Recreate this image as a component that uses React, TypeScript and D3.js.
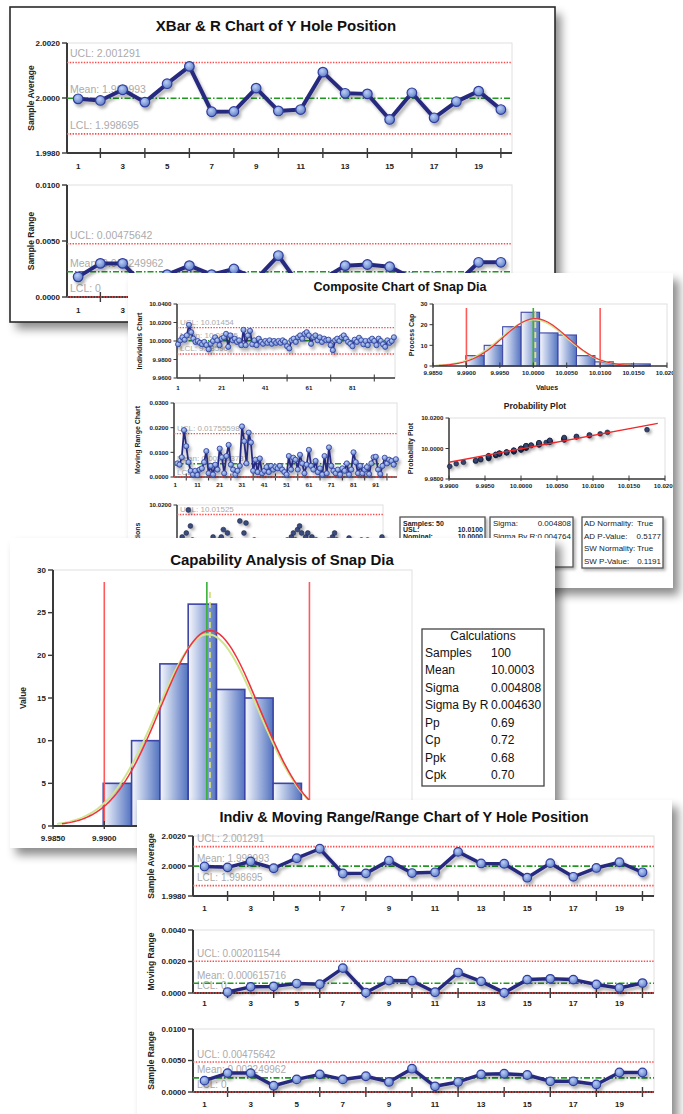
import React from "react";
import * as d3 from "d3";

// ---------------- DATA: Y Hole Position ----------------
const sampleNumbers = [1, 2, 3, 4, 5, 6, 7, 8, 9, 10, 11, 12, 13, 14, 15, 16, 17, 18, 19, 20];
const xbarValues = [1.99997, 1.99991, 2.0003, 1.99985, 2.00052, 2.00115, 1.9995, 1.99951, 2.00036, 1.99953, 1.99958, 2.00094, 2.00017, 2.00015, 1.99922, 2.00019, 1.99928, 1.99987, 2.00025, 1.99958];
const rangeValues = [0.0018, 0.003, 0.003, 0.001, 0.002, 0.0028, 0.002, 0.0025, 0.0016, 0.0037, 0.0009, 0.0016, 0.0028, 0.0029, 0.0027, 0.0017, 0.0017, 0.0012, 0.0031, 0.0031];
const movingRangeSamples = [2, 3, 4, 5, 6, 7, 8, 9, 10, 11, 12, 13, 14, 15, 16, 17, 18, 19, 20];
const movingRangeValues = [0.00006, 0.00039, 0.00042, 0.0006, 0.00056, 0.00158, 0.00003, 0.00079, 0.00078, 0.00005, 0.0013, 0.00074, 0.00002, 0.00085, 0.0009, 0.00085, 0.00054, 0.00032, 0.00063];
const xbarLimits = [2.001291, 1.999993, 1.998695];
const xbarLimitText = ["UCL: 2.001291", "Mean: 1.999993", "LCL: 1.998695"];
const rangeLimits = [0.00475642, 0.002249962, 0];
const rangeLimitText = ["UCL: 0.00475642", "Mean: 0.002249962", "LCL: 0"];
const mrLimits = [0.002011544, 0.000615716, 0];
const mrLimitText = ["UCL: 0.002011544", "Mean: 0.000615716", "LCL: 0"];
const limitKinds3 = ["ucl", "mean", "lcl"];
const holeXLabels = [1, 3, 5, 7, 9, 11, 13, 15, 17, 19];
const holeXMarks = [2, 4, 6, 8, 10, 12, 14, 16, 18, 20];

// ---------------- DATA: Snap Dia ----------------
const snapIndividuals = [
  9.9965, 10.0007, 10.004, 10.0014, 10.006, 10.0175, 10.0095, 10.0025, 9.999, 10.0,
  9.998, 9.9965, 9.999, 9.9955, 9.991, 9.997, 10.0, 10.004, 10.0007, 9.9955,
  10.0025, 10.004, 10.0077, 9.9937, 10.006, 10.0007, 10.0025, 9.999, 10.0007, 9.9955,
  10.012, 9.9955, 10.006, 10.011, 9.9965, 10.0007, 9.9955, 10.0025, 9.999, 9.997,
  10.0, 9.998, 10.0007, 9.997, 10.0, 9.998, 10.0, 9.998, 10.0007, 9.999,
  9.9944, 9.992, 10.0007, 10.0025, 9.999, 10.004, 10.006, 10.0025, 10.0077, 10.0095,
  10.006, 9.997, 10.004, 10.006, 10.0007, 10.004, 9.999, 10.0025, 10.0007, 10.0014,
  9.9955, 9.9901, 10.0007, 10.0025, 10.0, 10.004, 10.006, 10.0025, 9.999, 9.997,
  9.9944, 10.0014, 9.999, 10.0035, 10.0007, 9.9965, 10.0, 9.9955, 10.0007, 10.0025,
  10.0, 9.9955, 10.0025, 10.0, 9.9965, 9.9937, 10.0007, 9.998, 10.0, 10.004,
];
const snapIndex = d3.range(1, 101);
const snapMovingRange = [
  0.0055, 0.005, 0.008, 0.019, 0.0125, 0.006, 0.0025, 0.001, 0.0025,
  0.0008, 0.003, 0.0035, 0.006, 0.0105, 0.0015, 0.0045, 0.001, 0.005, 0.003,
  0.0115, 0.008, 0.0015, 0.0085, 0.013, 0.005, 0.003, 0.001, 0.0025, 0.0045,
  0.0205, 0.0145, 0.0055, 0.018, 0.014, 0.0025, 0.007, 0.002, 0.0075, 0.0015,
  0.0025, 0.004, 0.002, 0.0045, 0.003, 0.004, 0.0035, 0.0045, 0.003, 0.002,
  0.001, 0.0085, 0.003, 0.0078, 0.007, 0.003, 0.009, 0.0055, 0.0015, 0.005,
  0.011, 0.0045, 0.003, 0.0065, 0.002, 0.0035, 0.001, 0.0085, 0.0015, 0.012,
  0.0045, 0.0025, 0.0015, 0.003, 0.001, 0.0035, 0.0025, 0.0055, 0.001, 0.003,
  0.01, 0.006, 0.0015, 0.0045, 0.0015, 0.003, 0.004, 0.0012, 0.0055, 0.008,
  0.0082, 0.003, 0.0012, 0.0045, 0.0078, 0.0055, 0.007, 0.0065, 0.005, 0.0072,
];
const snapMRIndex = d3.range(2, 101);
const snapIndLimits = [10.01454, 10.00025, 9.98596];
const snapIndLimitText = ["UCL: 10.01454", "Mean: 10.00025", "LCL: 9.98596"];
const snapMRLimits = [0.01755598, 0.005373733, 0];
const snapMRLimitText = ["UCL: 0.01755598", "Mean: 0.005373733", "LCL: 0"];
const snapObsLimits = [10.01525];
const snapObsLimitText = ["UCL: 10.01525"];
const snapIndLabels = [1, 21, 41, 61, 81];
const snapIndMarks = [11, 31, 51, 71, 91];
const snapMRLabels = [1, 11, 21, 31, 41, 51, 61, 71, 81, 91];
const snapMRMarks = [6, 16, 26, 36, 46, 56, 66, 76, 86, 96];

const histCounts = [5, 10, 19, 26, 16, 15, 5, 2, 1, 1];
const histEdges = [9.9899, 9.99266, 9.99542, 9.99818, 10.00094, 10.0037, 10.00646, 10.00922, 10.01198, 10.01474, 10.0175];
const histXTicks = [9.985, 9.99, 9.995, 10.0, 10.005, 10.01, 10.015, 10.02];
const specLimits = [9.99, 10.01];
const nominalValue = 10.0;
const fitMean = 10.0003;
const fitSigma = 0.004808;
const smoothFit = [10.0001, 0.0049];
const probXTicks = [9.99, 9.995, 10.0, 10.005, 10.01, 10.015, 10.02];
const probYTicks = [9.98, 10.0, 10.02];
const probLineX = [9.99, 10.019];
const probLineY = [9.991, 10.0165];

const calcLabels = ["Samples", "Mean", "Sigma", "Sigma By R", "Pp", "Cp", "Ppk", "Cpk"];
const calcValues = ["100", "10.0003", "0.004808", "0.004630", "0.69", "0.72", "0.68", "0.70"];

// ---------------- helpers ----------------
const FONT = "'Liberation Sans', Arial, Helvetica, sans-serif";
const NAVY = "#28297f";

type Style = {
  tickFont: number; limitFont: number; titleFont: number; axisW: number; tickLen: number;
  lineW: number; r: number; labelDx: number; labelDy: number; limitW: number; markerStroke: number;
};

const bigStyle: Style = { tickFont: 8, limitFont: 10.5, titleFont: 8.5, axisW: 2, tickLen: 5, lineW: 4, r: 4.8, labelDx: 3, labelDy: 5, limitW: 1.6, markerStroke: 1.2 };
const p4Style: Style = { ...bigStyle, limitFont: 10, lineW: 3.5, r: 4.3, labelDx: 4, labelDy: 4.5 };
const smallStyle: Style = { tickFont: 6.2, limitFont: 8, titleFont: 7, axisW: 1.5, tickLen: 3.5, lineW: 1.8, r: 2.6, labelDx: 3, labelDy: 2.5, limitW: 1.3, markerStroke: 0.8 };

const limitStyle: Record<string, { stroke: string; dash: string }> = {
  ucl: { stroke: "#ff4a4a", dash: "1.4,1.4" },
  mean: { stroke: "#1f9a1f", dash: "6,2,1.5,2" },
  lcl: { stroke: "#ff4a4a", dash: "1.4,1.4" },
};

function probit(p: number): number {
  const a = [-39.69683028665376, 220.9460984245205, -275.9285104469687, 138.357751867269, -30.66479806614716, 2.506628277459239];
  const b = [-54.47609879822406, 161.5858368580409, -155.6989798598866, 66.80131188771972, -13.28068155288572];
  const c = [-0.007784894002430293, -0.3223964580411365, -2.400758277161838, -2.549732539343734, 4.374664141464968, 2.938163982698783];
  const d = [0.007784695709041462, 0.3224671290700398, 2.445134137142996, 3.754408661907416];
  const pl = 0.02425;
  if (p < pl) {
    const q = Math.sqrt(-2 * Math.log(p));
    return (((((c[0] * q + c[1]) * q + c[2]) * q + c[3]) * q + c[4]) * q + c[5]) / ((((d[0] * q + d[1]) * q + d[2]) * q + d[3]) * q + 1);
  }
  if (p > 1 - pl) {
    const q = Math.sqrt(-2 * Math.log(1 - p));
    return -(((((c[0] * q + c[1]) * q + c[2]) * q + c[3]) * q + c[4]) * q + c[5]) / ((((d[0] * q + d[1]) * q + d[2]) * q + d[3]) * q + 1);
  }
  const q = p - 0.5;
  const r = q * q;
  return ((((((a[0] * r + a[1]) * r + a[2]) * r + a[3]) * r + a[4]) * r + a[5]) * q) / (((((b[0] * r + b[1]) * r + b[2]) * r + b[3]) * r + b[4]) * r + 1);
}

type CC = {
  left: number; right: number; top: number; bottom: number;
  xDomain: [number, number]; yDomain: [number, number];
  yTicks: number[]; yDigits: number;
  labelTicks: number[]; markTicks: number[]; xLabelY: number;
  xs: number[]; ys: number[];
  limits: number[]; limitTexts: string[]; limitKinds: string[];
  yTitle: string; yTitleX: number; s: Style; mode?: "line" | "dots";
};

function ControlChart(p: CC) {
  const s = p.s;
  const x = d3.scaleLinear().domain(p.xDomain).range([p.left, p.right]);
  const y = d3.scaleLinear().domain(p.yDomain).range([p.bottom, p.top]);
  const fmt = d3.format(`.${p.yDigits}f`);
  const pts: [number, number][] = p.ys.map((v, i) => [x(p.xs[i]), y(v)]);
  const path = d3.line()(pts) || "";
  const midY = (p.top + p.bottom) / 2;
  const ax = "#3a3a3a";
  return (
    <g>
      <rect x={p.left} y={p.top} width={p.right - p.left} height={p.bottom - p.top} fill="#fff" stroke="#e0e0e0" strokeWidth={1} />
      {p.limits.map((v, i) => (
        <text key={"lt" + i} x={p.left + s.labelDx} y={y(v) - s.labelDy} fontSize={s.limitFont} fill="#ababab">{p.limitTexts[i]}</text>
      ))}
      <line x1={p.left} x2={p.left} y1={p.top} y2={p.bottom} stroke={ax} strokeWidth={s.axisW} />
      <line x1={p.left} x2={p.right} y1={p.bottom} y2={p.bottom} stroke={ax} strokeWidth={s.axisW} />
      {p.yTicks.map((t) => (
        <g key={"yt" + t}>
          <line x1={p.left - s.tickLen} x2={p.left} y1={y(t)} y2={y(t)} stroke={ax} strokeWidth={s.axisW * 0.7} />
          <text x={p.left - s.tickLen - 2} y={y(t)} dy="0.35em" textAnchor="end" fontSize={s.tickFont} fontWeight="bold" fill="#222">{fmt(t)}</text>
        </g>
      ))}
      {p.markTicks.map((t) => (
        <line key={"xm" + t} x1={x(t)} x2={x(t)} y1={p.bottom - s.tickLen} y2={p.bottom + s.tickLen} stroke={ax} strokeWidth={s.axisW * 0.7} />
      ))}
      {p.labelTicks.map((t) => (
        <text key={"xl" + t} x={x(t)} y={p.xLabelY} textAnchor="middle" fontSize={s.tickFont} fontWeight="bold" fill="#222">{t}</text>
      ))}
      <text transform={`translate(${p.yTitleX},${midY}) rotate(-90)`} textAnchor="middle" dy="0.35em" fontSize={s.titleFont} fontWeight="bold" fill="#222">{p.yTitle}</text>
      {p.limits.map((v, i) => {
        const st = limitStyle[p.limitKinds[i]];
        return <line key={"ll" + i} x1={p.left} x2={p.right} y1={y(v)} y2={y(v)} stroke={st.stroke} strokeWidth={s.limitW} strokeDasharray={st.dash} />;
      })}
      {p.mode === "dots" ? (
        <g filter="url(#dotShadow)">
          {pts.map((q, i) => (
            <circle key={"d" + i} cx={q[0]} cy={q[1]} r={s.r} fill="#3b4c7e" stroke="#1b2444" strokeWidth={0.6} />
          ))}
        </g>
      ) : (
        <g filter="url(#lineShadow)">
          <path d={path} fill="none" stroke={NAVY} strokeWidth={s.lineW} strokeLinejoin="round" />
          {pts.map((q, i) => (
            <circle key={"m" + i} cx={q[0]} cy={q[1]} r={s.r} fill="url(#markerFill)" stroke="#2f3d9c" strokeWidth={s.markerStroke} />
          ))}
        </g>
      )}
    </g>
  );
}

type HP = {
  left: number; right: number; top: number; bottom: number;
  yTicks: number[]; xLabelY: number; yTitle: string; yTitleX: number; s: Style;
  specTop: number; meanTop: number; curveW: number; barStroke: number; labelMaxX?: number;
};

function CapHistogram(p: HP) {
  const s = p.s;
  const x = d3.scaleLinear().domain([histXTicks[0], histXTicks[histXTicks.length - 1]]).range([p.left, p.right]);
  const y = d3.scaleLinear().domain([0, p.yTicks[p.yTicks.length - 1]]).range([p.bottom, p.top]);
  const n = d3.sum(histCounts);
  const bw = histEdges[1] - histEdges[0];
  const curve = (mu: number, sd: number) => {
    const xs = d3.range(mu - 3 * sd, mu + 3 * sd + sd / 40, sd / 20);
    return d3.line()(xs.map((v) => [x(v), y((n * bw * Math.exp(-0.5 * ((v - mu) / sd) ** 2)) / (sd * Math.sqrt(2 * Math.PI)))] as [number, number])) || "";
  };
  const ax = "#3a3a3a";
  const fmt = d3.format(".4f");
  const maxX = p.labelMaxX ?? Infinity;
  return (
    <g>
      <rect x={p.left} y={p.top} width={p.right - p.left} height={p.bottom - p.top} fill="#fff" stroke="#e0e0e0" />
      {histCounts.map((c, i) => (
        <rect key={"b" + i} x={x(histEdges[i])} y={y(c)} width={x(histEdges[i + 1]) - x(histEdges[i])} height={y(0) - y(c)} fill="url(#barFill)" stroke="#3d46a6" strokeWidth={p.barStroke} />
      ))}
      {specLimits.map((v, i) => (
        <line key={"sp" + i} x1={x(v)} x2={x(v)} y1={p.specTop} y2={p.bottom} stroke="#ff5a5a" strokeWidth={1.6} />
      ))}
      <line x1={x(nominalValue)} x2={x(nominalValue)} y1={p.specTop} y2={p.bottom} stroke="#38b038" strokeWidth={1.6} />
      <line x1={x(fitMean)} x2={x(fitMean)} y1={p.meanTop} y2={p.bottom} stroke="#d6e27a" strokeWidth={1.8} strokeDasharray="6,4" />
      <path d={curve(smoothFit[0], smoothFit[1])} fill="none" stroke="#cfe58e" strokeWidth={p.curveW + 0.5} />
      <path d={curve(fitMean, fitSigma)} fill="none" stroke="#f0303c" strokeWidth={p.curveW} />
      <line x1={p.left} x2={p.left} y1={p.top} y2={p.bottom} stroke={ax} strokeWidth={s.axisW} />
      <line x1={p.left} x2={p.right} y1={p.bottom} y2={p.bottom} stroke={ax} strokeWidth={s.axisW} />
      {p.yTicks.map((t) => (
        <g key={"hy" + t}>
          <line x1={p.left - s.tickLen} x2={p.left} y1={y(t)} y2={y(t)} stroke={ax} strokeWidth={s.axisW * 0.7} />
          <text x={p.left - s.tickLen - 2} y={y(t)} dy="0.35em" textAnchor="end" fontSize={s.tickFont} fontWeight="bold" fill="#222">{t}</text>
        </g>
      ))}
      {histXTicks.map((t) => (
        <g key={"hx" + t}>
          <line x1={x(t)} x2={x(t)} y1={p.bottom - s.tickLen} y2={p.bottom + s.tickLen * 0.6} stroke={ax} strokeWidth={s.axisW * 0.7} />
          {x(t) < maxX ? (
            <text x={x(t)} y={p.xLabelY} textAnchor="middle" fontSize={s.tickFont} fontWeight="bold" fill="#222">{fmt(t)}</text>
          ) : null}
        </g>
      ))}
      <text transform={`translate(${p.yTitleX},${(p.top + p.bottom) / 2}) rotate(-90)`} textAnchor="middle" dy="0.35em" fontSize={s.titleFont} fontWeight="bold" fill="#222">{p.yTitle}</text>
    </g>
  );
}

function ProbPlot() {
  const s = smallStyle;
  const left = 449, right = 665, top = 418, bottom = 479;
  const x = d3.scaleLinear().domain([probXTicks[0], probXTicks[probXTicks.length - 1]]).range([left, right]);
  const y = d3.scaleLinear().domain([probYTicks[0], probYTicks[probYTicks.length - 1]]).range([bottom, top]);
  const sorted = snapIndividuals.slice().sort(d3.ascending);
  const n = sorted.length;
  const pts = sorted.map((v, i) => [x(v), y(fitMean + fitSigma * probit((i + 1 - 0.375) / (n + 0.25)))]);
  const fmt = d3.format(".4f");
  const ax = "#3a3a3a";
  return (
    <g>
      <text x={535} y={409} textAnchor="middle" fontSize={8.5} fontWeight="bold" fill="#222">Probability Plot</text>
      <rect x={left} y={top} width={right - left} height={bottom - top} fill="#fff" stroke="#e0e0e0" />
      <line x1={left} x2={left} y1={top} y2={bottom} stroke={ax} strokeWidth={s.axisW} />
      <line x1={left} x2={right} y1={bottom} y2={bottom} stroke={ax} strokeWidth={s.axisW} />
      {probYTicks.map((t) => (
        <g key={"py" + t}>
          <line x1={left - s.tickLen} x2={left} y1={y(t)} y2={y(t)} stroke={ax} strokeWidth={1} />
          <text x={left - s.tickLen - 2} y={y(t)} dy="0.35em" textAnchor="end" fontSize={s.tickFont} fontWeight="bold" fill="#222">{fmt(t)}</text>
        </g>
      ))}
      {probXTicks.map((t) => (
        <g key={"px" + t}>
          <line x1={x(t)} x2={x(t)} y1={bottom - s.tickLen} y2={bottom + 2} stroke={ax} strokeWidth={1} />
          <text x={x(t)} y={488} textAnchor="middle" fontSize={s.tickFont} fontWeight="bold" fill="#222">{fmt(t)}</text>
        </g>
      ))}
      <text transform={`translate(411,${(top + bottom) / 2}) rotate(-90)`} textAnchor="middle" dy="0.35em" fontSize={7} fontWeight="bold" fill="#222">Probability Plot</text>
      <g filter="url(#dotShadow)">
        {pts.map((q, i) => (
          <circle key={"pp" + i} cx={q[0]} cy={q[1]} r={2.4} fill="#34446f" stroke="#111a33" strokeWidth={0.6} />
        ))}
      </g>
      <line x1={x(probLineX[0])} x2={x(probLineX[1])} y1={y(probLineY[0])} y2={y(probLineY[1])} stroke="#f02828" strokeWidth={1.4} />
    </g>
  );
}

type Box = { x: number; y: number; w: number; h: number };
const P1: Box = { x: 10, y: 7, w: 545, h: 315 };
const P2: Box = { x: 128, y: 273, w: 545, h: 315 };
const P3: Box = { x: 10, y: 538, w: 545, h: 310 };
const P4: Box = { x: 137, y: 800, w: 535, h: 330 };

function Panel({ id, b, border, children }: { id: string; b: Box; border?: boolean; children: React.ReactNode }) {
  return (
    <g>
      <rect x={b.x} y={b.y} width={b.w} height={b.h} fill="#fff" filter="url(#panelShadow)" />
      <g clipPath={`url(#${id})`}>{children}</g>
      {border ? <rect x={b.x} y={b.y} width={b.w} height={b.h} fill="none" stroke="#2a2a2a" strokeWidth={1.6} /> : null}
    </g>
  );
}

function StatBoxes() {
  const f = 8;
  return (
    <g fontSize={f} fill="#222">
      <g filter="url(#boxShadow)">
        <rect x={400} y={517} width={85} height={50} fill="#fff" stroke="#555" strokeWidth={1.3} />
        <rect x={490} y={517} width={83} height={50} fill="#fff" stroke="#555" strokeWidth={1.3} />
        <rect x={582} y={517} width={81} height={51} fill="#fff" stroke="#555" strokeWidth={1.3} />
      </g>
      <g fontWeight="bold" fontSize={7}>
        <text x={403} y={525.5}>Samples: 50</text>
        <text x={403} y={532}>USL:</text>
        <text x={483} y={532} textAnchor="end">10.0100</text>
        <text x={403} y={538.5}>Nominal:</text>
        <text x={483} y={538.5} textAnchor="end">10.0000</text>
      </g>
      <text x={493} y={526}>Sigma:</text>
      <text x={571} y={526} textAnchor="end">0.004808</text>
      <text x={493} y={539}>Sigma By R:0.004764</text>
      <text x={584} y={526}>AD Normality:</text>
      <text x={637} y={526}>True</text>
      <text x={584} y={538.5}>AD P-Value:</text>
      <text x={661} y={538.5} textAnchor="end">0.5177</text>
      <text x={584} y={551}>SW Normality:</text>
      <text x={637} y={551}>True</text>
      <text x={584} y={563.5}>SW P-Value:</text>
      <text x={661} y={563.5} textAnchor="end">0.1191</text>
    </g>
  );
}

export default function App() {
  const boxes: [string, Box][] = [["c1", P1], ["c2", P2], ["c3", P3], ["c4", P4]];
  return (
    <svg width={683} height={1114} viewBox="0 0 683 1114" style={{ position: "absolute", left: 0, top: 0, display: "block" }} fontFamily={FONT}>
      <defs>
        <filter id="panelShadow" x="-5%" y="-5%" width="115%" height="120%">
          <feDropShadow dx="6" dy="7" stdDeviation="5" floodColor="#000" floodOpacity="0.45" />
        </filter>
        <filter id="boxShadow" x="-10%" y="-10%" width="130%" height="140%">
          <feDropShadow dx="2" dy="2" stdDeviation="1.5" floodColor="#000" floodOpacity="0.3" />
        </filter>
        <filter id="lineShadow" x="-5%" y="-30%" width="110%" height="160%">
          <feDropShadow dx="2" dy="3" stdDeviation="1.5" floodColor="#000" floodOpacity="0.3" />
        </filter>
        <filter id="dotShadow" x="-10%" y="-30%" width="120%" height="160%">
          <feDropShadow dx="2" dy="2" stdDeviation="1.5" floodColor="#000" floodOpacity="0.35" />
        </filter>
        <radialGradient id="markerFill" cx="40%" cy="35%" r="70%">
          <stop offset="0%" stopColor="#bcd0f5" />
          <stop offset="100%" stopColor="#5878c6" />
        </radialGradient>
        <linearGradient id="barFill" x1="0" x2="1" y1="0" y2="0">
          <stop offset="0%" stopColor="#f6f8fd" />
          <stop offset="100%" stopColor="#5273c0" />
        </linearGradient>
        {boxes.map(([id, b]) => (
          <clipPath id={id} key={id}>
            <rect x={b.x} y={b.y} width={b.w} height={b.h} />
          </clipPath>
        ))}
      </defs>
      <rect x={0} y={0} width={683} height={1114} fill="#fff" />

      {/* Panel 1: XBar & R */}
      <Panel id="c1" b={P1} border>
        <text x={276} y={31} textAnchor="middle" fontSize={15} fontWeight="bold" fill="#111">XBar &amp; R Chart of Y Hole Position</text>
        <ControlChart left={67} right={512} top={43} bottom={153} xDomain={[0.5, 20.5]} yDomain={[1.998, 2.002]}
          yTicks={[1.998, 2.0, 2.002]} yDigits={4} labelTicks={holeXLabels} markTicks={holeXMarks} xLabelY={169}
          xs={sampleNumbers} ys={xbarValues} limits={xbarLimits} limitTexts={xbarLimitText} limitKinds={limitKinds3}
          yTitle="Sample Average" yTitleX={31} s={bigStyle} />
        <ControlChart left={67} right={512} top={185} bottom={297} xDomain={[0.5, 20.5]} yDomain={[0, 0.01]}
          yTicks={[0, 0.005, 0.01]} yDigits={4} labelTicks={holeXLabels} markTicks={holeXMarks} xLabelY={313}
          xs={sampleNumbers} ys={rangeValues} limits={rangeLimits} limitTexts={rangeLimitText} limitKinds={limitKinds3}
          yTitle="Sample Range" yTitleX={31} s={bigStyle} />
      </Panel>

      {/* Panel 2: Composite */}
      <Panel id="c2" b={P2}>
        <text x={400} y={291} textAnchor="middle" fontSize={12.5} fontWeight="bold" fill="#111">Composite Chart of Snap Dia</text>
        <ControlChart left={177} right={395} top={304} bottom={378} xDomain={[0.5, 100.5]} yDomain={[9.96, 10.04]}
          yTicks={[9.96, 9.98, 10.0, 10.02, 10.04]} yDigits={4} labelTicks={snapIndLabels} markTicks={snapIndMarks} xLabelY={390}
          xs={snapIndex} ys={snapIndividuals} limits={snapIndLimits} limitTexts={snapIndLimitText} limitKinds={limitKinds3}
          yTitle="Individuals Chart" yTitleX={140} s={smallStyle} />
        <ControlChart left={174} right={397} top={403} bottom={477} xDomain={[0.5, 100.5]} yDomain={[0, 0.03]}
          yTicks={[0, 0.01, 0.02, 0.03]} yDigits={4} labelTicks={snapMRLabels} markTicks={snapMRMarks} xLabelY={487}
          xs={snapMRIndex} ys={snapMovingRange} limits={snapMRLimits} limitTexts={snapMRLimitText} limitKinds={limitKinds3}
          yTitle="Moving Range Chart" yTitleX={138} s={smallStyle} />
        <ControlChart left={177} right={383} top={505} bottom={585} xDomain={[0.5, 100.5]} yDomain={[9.98, 10.02]}
          yTicks={[9.98, 10.0, 10.02]} yDigits={4} labelTicks={[]} markTicks={[]} xLabelY={595}
          xs={snapIndex} ys={snapIndividuals} limits={snapObsLimits} limitTexts={snapObsLimitText} limitKinds={["ucl"]}
          yTitle="Observations" yTitleX={138} s={{ ...smallStyle, r: 2.4 }} mode="dots" />
        <CapHistogram left={433} right={667} top={304} bottom={366} yTicks={[0, 10, 20, 30]} xLabelY={374.5}
          yTitle="Process Cap" yTitleX={412} s={smallStyle} specTop={308} meanTop={312} curveW={1.2} barStroke={1.1} />
        <text x={547} y={390} textAnchor="middle" fontSize={7} fontWeight="bold" fill="#222">Values</text>
        <ProbPlot />
        <StatBoxes />
      </Panel>

      {/* Panel 3: Capability */}
      <Panel id="c3" b={P3}>
        <text x={282} y={565} textAnchor="middle" fontSize={15} fontWeight="bold" fill="#111">Capability Analysis of Snap Dia</text>
        <CapHistogram left={53} right={412} top={570} bottom={826} yTicks={[0, 5, 10, 15, 20, 25, 30]} xLabelY={841}
          yTitle="Value" yTitleX={23} s={{ ...bigStyle, axisW: 2 }} specTop={582} meanTop={592} curveW={1.5} barStroke={1.6}
          labelMaxX={P4.x} />
        <rect x={422} y={629} width={122} height={157} fill="#fff" stroke="#444" strokeWidth={1.3} />
        <text x={483} y={639.5} textAnchor="middle" fontSize={12} fill="#111">Calculations</text>
        {calcLabels.map((l, i) => (
          <g key={"cl" + i}>
            <text x={425} y={656.5 + i * 17.5} fontSize={12} fill="#111">{l}</text>
            <text x={491} y={656.5 + i * 17.5} fontSize={12} fill="#111">{calcValues[i]}</text>
          </g>
        ))}
      </Panel>

      {/* Panel 4: Indiv & Moving Range / Range */}
      <Panel id="c4" b={P4}>
        <text x={404} y={822} textAnchor="middle" fontSize={14.5} fontWeight="bold" fill="#111">Indiv &amp; Moving Range/Range Chart of Y Hole Position</text>
        <ControlChart left={193} right={654} top={836} bottom={896} xDomain={[0.5, 20.5]} yDomain={[1.998, 2.002]}
          yTicks={[1.998, 2.0, 2.002]} yDigits={4} labelTicks={holeXLabels} markTicks={holeXMarks} xLabelY={911}
          xs={sampleNumbers} ys={xbarValues} limits={xbarLimits} limitTexts={xbarLimitText} limitKinds={limitKinds3}
          yTitle="Sample Average" yTitleX={151} s={p4Style} />
        <ControlChart left={193} right={654} top={930} bottom={993} xDomain={[0.5, 20.5]} yDomain={[0, 0.004]}
          yTicks={[0, 0.002, 0.004]} yDigits={4} labelTicks={holeXLabels} markTicks={holeXMarks} xLabelY={1005.5}
          xs={movingRangeSamples} ys={movingRangeValues} limits={mrLimits} limitTexts={mrLimitText} limitKinds={limitKinds3}
          yTitle="Moving Range" yTitleX={151} s={p4Style} />
        <ControlChart left={193} right={654} top={1029} bottom={1092} xDomain={[0.5, 20.5]} yDomain={[0, 0.01]}
          yTicks={[0, 0.005, 0.01]} yDigits={4} labelTicks={holeXLabels} markTicks={holeXMarks} xLabelY={1106.5}
          xs={sampleNumbers} ys={rangeValues} limits={rangeLimits} limitTexts={rangeLimitText} limitKinds={limitKinds3}
          yTitle="Sample Range" yTitleX={151} s={p4Style} />
      </Panel>
    </svg>
  );
}
